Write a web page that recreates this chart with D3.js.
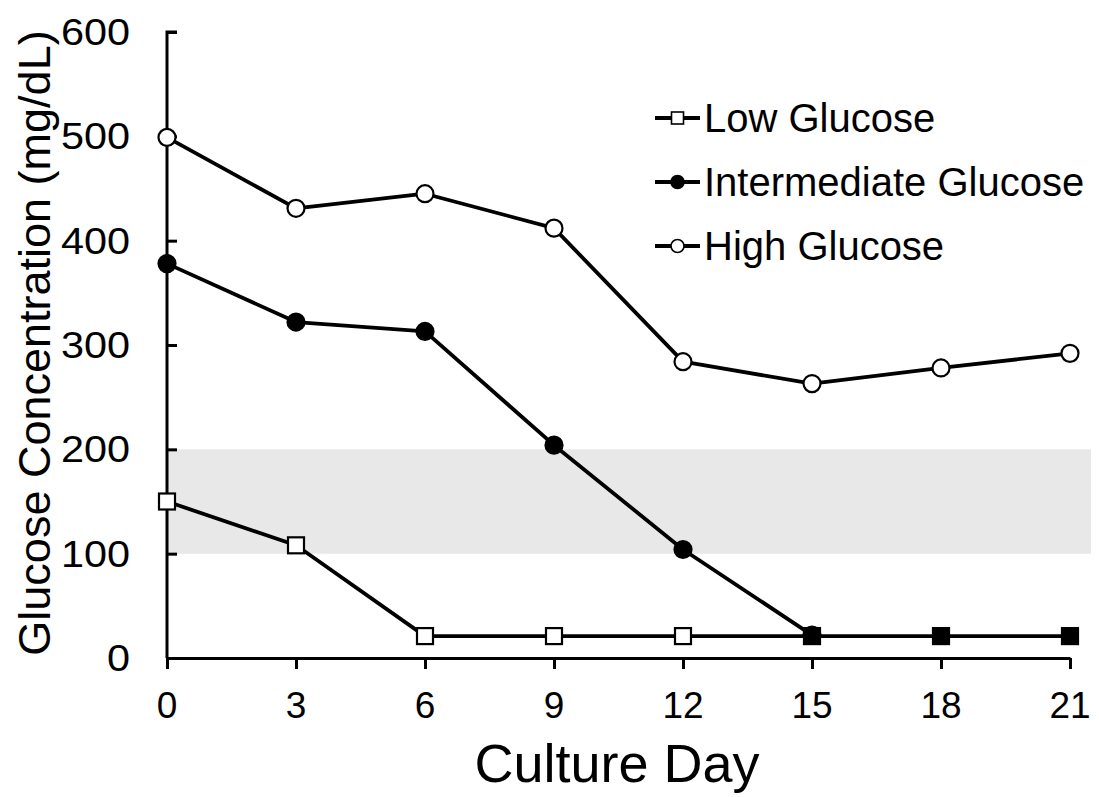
<!DOCTYPE html>
<html>
<head>
<meta charset="utf-8">
<script src="https://cdn.jsdelivr.net/npm/d3@7"></script>
<style>
  html, body { margin: 0; padding: 0; background: #fff; }
  svg text { font-family: "Liberation Sans", Arial, sans-serif; fill: #000; }
</style>
</head>
<body>
<svg id="chart" width="1099" height="797"></svg>
<script>
// Culture days (x) and glucose readings (mg/dL) per condition
const days = [0, 3, 6, 9, 12, 15, 18, 21];
const lowGlucose = [150, 108, 21, 21, 21, 21, 21, 21];
const lowFilled = [false, false, false, false, false, true, true, true];
const intermediateGlucose = [378, 322, 313, 204, 104, 22];
const highGlucose = [499, 431, 445, 412, 284, 263, 278, 292];
const xTicks = [0, 3, 6, 9, 12, 15, 18, 21];
const yTicks = [0, 100, 200, 300, 400, 500, 600];
const targetBand = [100, 200];
const seriesNames = ["Low Glucose", "Intermediate Glucose", "High Glucose"];

const svg = d3.select("#chart");
const x = d3.scaleLinear().domain([0, 21]).range([167, 1070]);
const y = d3.scaleLinear().domain([0, 600]).range([658, 32]);

// shaded target range
svg.append("rect")
  .attr("x", x(0)).attr("width", 1091 - x(0))
  .attr("y", y(targetBand[1])).attr("height", y(targetBand[0]) - y(targetBand[1]))
  .attr("fill", "#e8e8e8");

// axes
const yAxis = svg.append("g").attr("transform", `translate(${x(0)},0)`)
  .call(d3.axisRight(y).tickValues(yTicks).tickSize(10).tickFormat(""));
yAxis.select(".domain").attr("d", `M10,${y(600)}H0V${y(0)}`);
yAxis.selectAll("line,path").attr("stroke", "#000").attr("stroke-width", 3);
svg.append("g").selectAll("text").data(yTicks).join("text")
  .attr("x", 130).attr("y", d => y(d) + 13)
  .attr("text-anchor", "end").attr("font-size", 37)
  .attr("transform", "translate(130,0) scale(1.12,1) translate(-130,0)")
  .text(d => d);

const xAxis = svg.append("g").attr("transform", `translate(0,${y(0)})`)
  .call(d3.axisBottom(x).tickValues(xTicks).tickSize(11).tickSizeOuter(0).tickFormat(""));
xAxis.selectAll("line,path").attr("stroke", "#000").attr("stroke-width", 3);
svg.append("g").selectAll("text").data(xTicks).join("text")
  .attr("x", d => x(d)).attr("y", 718)
  .attr("text-anchor", "middle").attr("font-size", 37)
  .text(d => d);

// axis titles
svg.append("text")
  .attr("transform", "translate(50,343) rotate(-90)")
  .attr("text-anchor", "middle").attr("font-size", 45)
  .text("Glucose Concentration (mg/dL)");
svg.append("text")
  .attr("x", 617).attr("y", 782)
  .attr("text-anchor", "middle").attr("font-size", 54)
  .text("Culture Day");

const line = d3.line().x(d => x(d[0])).y(d => y(d[1]));
const pairs = arr => arr.map((v, i) => [days[i], v]);

function drawSeries(vals, shape, fillFn) {
  const g = svg.append("g");
  g.append("path").datum(pairs(vals)).attr("d", line)
    .attr("fill", "none").attr("stroke", "#000").attr("stroke-width", 3.8)
    .attr("stroke-linejoin", "round");
  const pts = pairs(vals);
  if (shape === "square") {
    g.selectAll("rect").data(pts).join("rect")
      .attr("x", d => x(d[0]) - 8).attr("y", d => y(d[1]) - 8)
      .attr("width", 16).attr("height", 16)
      .attr("fill", (d, i) => fillFn(i)).attr("stroke", "#000").attr("stroke-width", 2.2);
  } else {
    g.selectAll("circle").data(pts).join("circle")
      .attr("cx", d => x(d[0])).attr("cy", d => y(d[1])).attr("r", 8.5)
      .attr("fill", (d, i) => fillFn(i)).attr("stroke", "#000").attr("stroke-width", 2.2);
  }
}
drawSeries(highGlucose, "circle", () => "#fff");
drawSeries(lowGlucose, "square", i => lowFilled[i] ? "#000" : "#fff");
drawSeries(intermediateGlucose, "circle", () => "#000");
// filled squares drawn over the merged tail
svg.append("g").selectAll("rect").data(pairs(lowGlucose).filter((d, i) => lowFilled[i])).join("rect")
  .attr("x", d => x(d[0]) - 8).attr("y", d => y(d[1]) - 8)
  .attr("width", 16).attr("height", 16).attr("fill", "#000");

// legend
const legend = svg.append("g");
const legendMarks = [
  { shape: "square", fill: "#fff" },
  { shape: "circle", fill: "#000" },
  { shape: "circle", fill: "#fff" }
];
seriesNames.forEach((name, i) => {
  const cy = 118 + i * 64;
  const row = legend.append("g");
  row.append("line").attr("x1", 655).attr("x2", 700).attr("y1", cy).attr("y2", cy)
    .attr("stroke", "#000").attr("stroke-width", 3.8);
  if (legendMarks[i].shape === "square") {
    row.append("rect").attr("x", 671.5).attr("y", cy - 6).attr("width", 12).attr("height", 12)
      .attr("fill", legendMarks[i].fill).attr("stroke", "#000").attr("stroke-width", 1.6);
  } else {
    row.append("circle").attr("cx", 677.5).attr("cy", cy).attr("r", 6.5)
      .attr("fill", legendMarks[i].fill).attr("stroke", "#000").attr("stroke-width", 1.6);
  }
  row.append("text").attr("x", 704).attr("y", cy + 14)
    .attr("font-size", 40)
    .text(name);
});
</script>
</body>
</html>
